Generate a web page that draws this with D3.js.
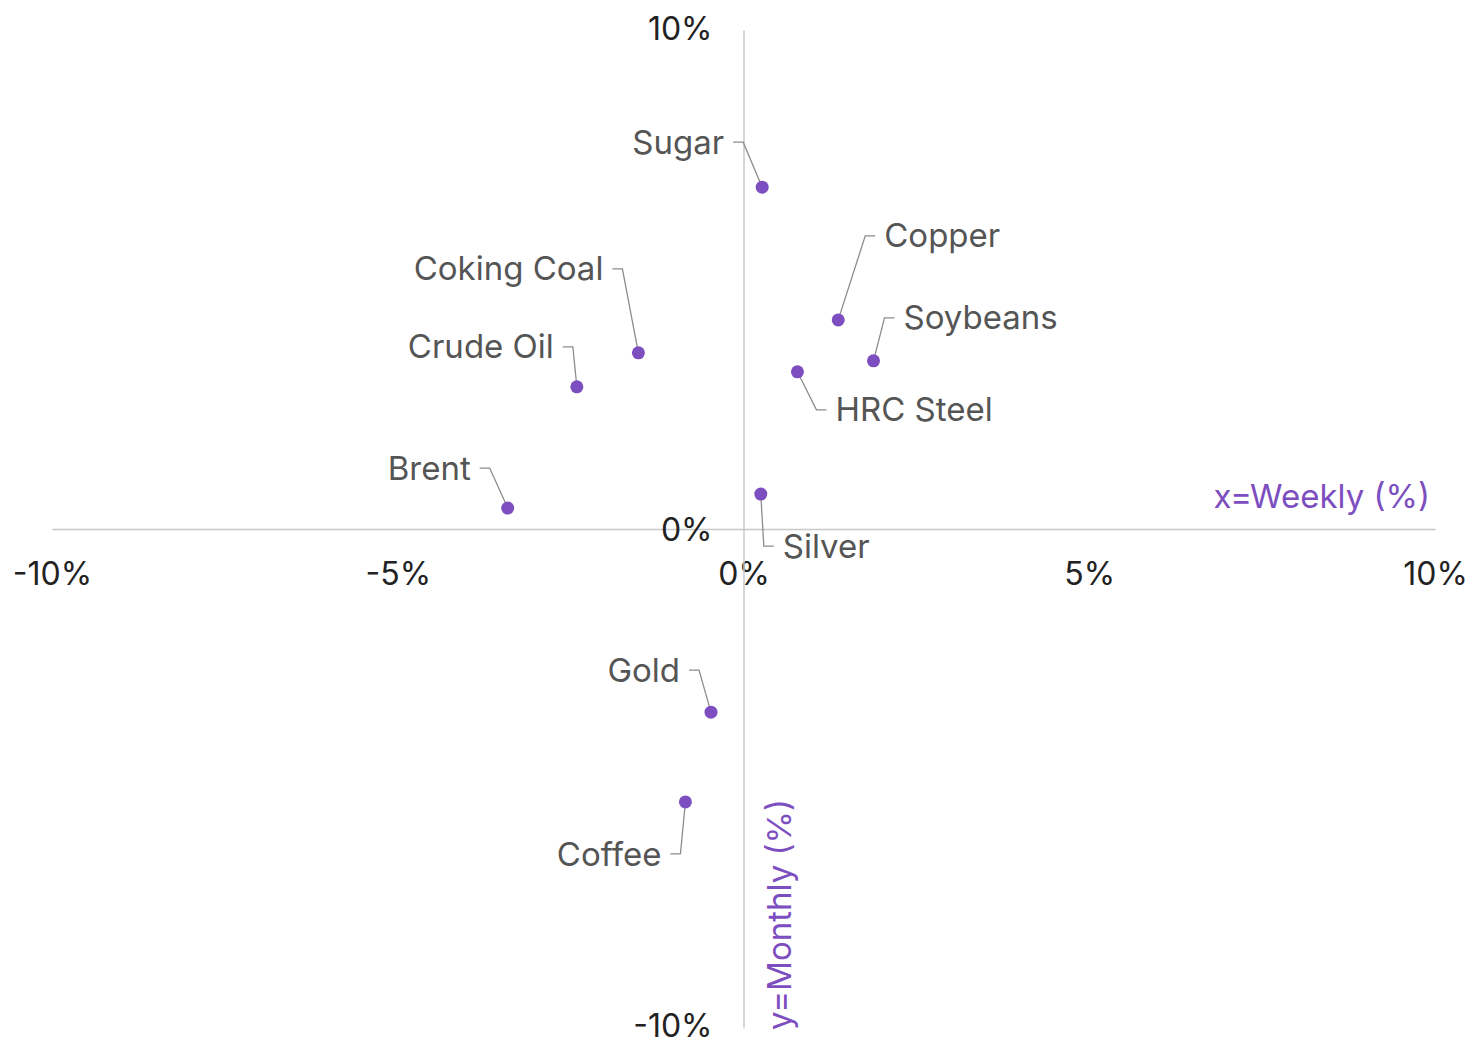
<!DOCTYPE html>
<html>
<head>
<meta charset="utf-8">
<script src="https://cdn.jsdelivr.net/npm/d3@7"></script>
<style>
  html, body { margin: 0; padding: 0; background: #fff; }
  svg { display: block; }
  text { font-family: Inter, "Noto Sans", sans-serif; }
</style>
</head>
<body>
<svg id="chart" width="1470" height="1045"></svg>
<script>
// ---- data ----
const commodities = ["Sugar", "Copper", "Soybeans", "HRC Steel", "Coking Coal", "Crude Oil", "Brent", "Silver", "Gold", "Coffee"];
const weekly  = [0.27, 1.37, 1.88, 0.78, -1.52, -2.41, -3.41, 0.25, -0.47, -0.84];
const monthly = [6.85, 4.19, 3.37, 3.15, 3.53, 2.85, 0.42, 0.70, -3.67, -5.47];
const xTicks = [-10, -5, 0, 5, 10];
const yTicks = [-10, 0, 10];

// ---- layout for label leaders (pixel offsets from dot to elbow; side of label) ----
const labelDx   = [-19, 27, 11, 19, -16, -4, -18, 3, -12, -5];
const labelDy   = [-45, -84, -43, 38, -84, -40, -40, 52, -42, 52];
const labelSide = ["L", "R", "R", "R", "L", "L", "L", "R", "L", "L"];

const svg = d3.select("#chart");
const x = d3.scaleLinear().domain([-10, 10]).range([52, 1435]);
const y = d3.scaleLinear().domain([-10, 10]).range([1028, 30]);

const axisColor = "#c8c8c8";
const purple = "#7d4ebf";

// axes lines
const xAxis = d3.axisBottom(x).tickValues(xTicks).tickSize(0).tickPadding(0)
  .tickFormat(d => d + "%");
const gx = svg.append("g").attr("transform", `translate(0,${y(0)})`).call(xAxis);
gx.select(".domain").attr("stroke", axisColor).attr("stroke-width", 1.5);
gx.selectAll("text").attr("y", 45).attr("dy", "0.35em")
  .attr("font-size", 32).attr("fill", "#222");

const yAxis = d3.axisLeft(y).tickValues(yTicks).tickSize(0).tickPadding(0)
  .tickFormat(d => d + "%");
const gy = svg.append("g").attr("transform", `translate(${x(0)},0)`).call(yAxis);
gy.select(".domain").attr("stroke", axisColor).attr("stroke-width", 1.5);
gy.selectAll("text").attr("x", -31).attr("dy", "0.35em")
  .attr("font-size", 32).attr("fill", "#222")
  .attr("y", d => d === -10 ? -3 : (d === 10 ? -2 : 0));

// axis titles
svg.append("text").attr("x", x(10) - 5).attr("y", y(0) - 33).attr("dy", "0.35em")
  .attr("text-anchor", "end").attr("font-size", 33).attr("fill", purple)
  .text("x=Weekly (%)");
svg.append("text")
  .attr("transform", `translate(${x(0) + 36},${y(-10) + 2}) rotate(-90)`)
  .attr("dy", "0.35em")
  .attr("text-anchor", "start").attr("font-size", 33).attr("fill", purple)
  .text("y=Monthly (%)");

// points + labels
const data = commodities.map((c, i) => ({
  name: c, wx: weekly[i], my: monthly[i],
  dx: labelDx[i], dy: labelDy[i], side: labelSide[i]
}));

const g = svg.append("g");
data.forEach(d => {
  const px = x(d.wx), py = y(d.my);
  const ex = px + d.dx, ey = py + d.dy;
  const hx = d.side === "L" ? ex - 10 : ex + 10;
  g.append("path")
    .attr("d", `M${px},${py}L${ex},${ey}L${hx},${ey}`)
    .attr("fill", "none").attr("stroke", "#8c8c8c").attr("stroke-width", 1.3);
  g.append("text")
    .attr("x", d.side === "L" ? hx - 9 : hx + 9)
    .attr("y", ey).attr("dy", "0.35em")
    .attr("text-anchor", d.side === "L" ? "end" : "start")
    .attr("font-size", 33).attr("fill", "#555")
    .text(d.name);
});
g.selectAll("circle").data(data).join("circle")
  .attr("cx", d => x(d.wx)).attr("cy", d => y(d.my)).attr("r", 6.5)
  .attr("fill", purple);
</script>
</body>
</html>
